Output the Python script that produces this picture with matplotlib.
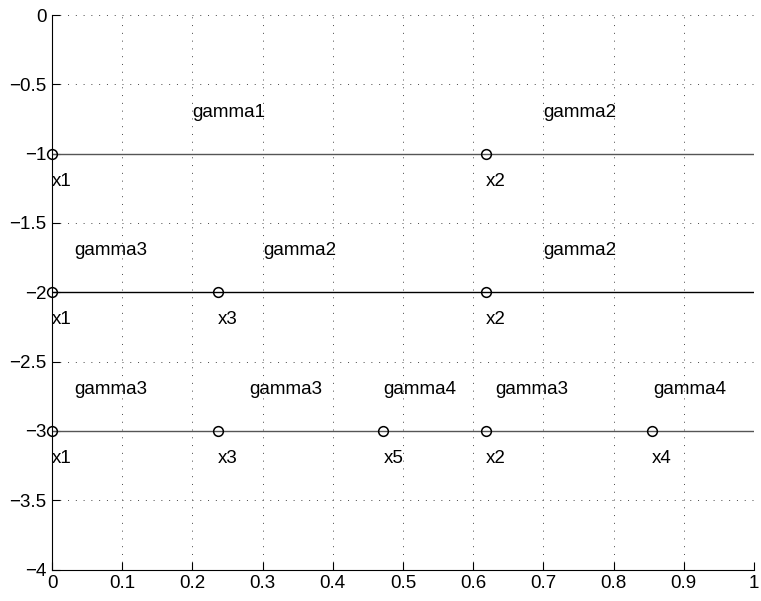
import numpy as np
import matplotlib
matplotlib.use('Agg')
import matplotlib.pyplot as plt

plt.rcParams['font.family'] = ['Liberation Sans', 'DejaVu Sans']

# points on each level (x position, level)
pt_x = [0, 0.618, 0, 0.236, 0.618, 0, 0.236, 0.472, 0.618, 0.854]
pt_y = [-1, -1, -2, -2, -2, -3, -3, -3, -3, -3]
pt_labels = ['x1', 'x2', 'x1', 'x3', 'x2', 'x1', 'x3', 'x5', 'x2', 'x4']

# interval labels
gam_x = [0.2, 0.7, 0.031, 0.301, 0.7, 0.031, 0.281, 0.472, 0.632, 0.856]
gam_y = [-0.7, -0.7, -1.7, -1.7, -1.7, -2.7, -2.7, -2.7, -2.7, -2.7]
gam_labels = ['gamma1', 'gamma2', 'gamma3', 'gamma2', 'gamma2',
              'gamma3', 'gamma3', 'gamma4', 'gamma3', 'gamma4']

levels = [-1, -2, -3]
level_colors = ['#555555', 'black', '#555555']

fig = plt.figure(figsize=(7.61, 6.01), dpi=100)
ax = fig.add_axes([52 / 761, 31.5 / 601, 702 / 761, 554.5 / 601])

for lv, c in zip(levels, level_colors):
    ax.plot([0, 1], [lv, lv], color=c, lw=1, zorder=2)
ax.plot(pt_x, pt_y, 'o', mfc='none', mec='black', ms=7, mew=1.1, zorder=3, clip_on=False)

for x, y, s in zip(pt_x, pt_y, pt_labels):
    ax.text(x, y - 0.2, s, ha='left', va='center', fontsize=13.5)
for x, y, s in zip(gam_x, gam_y, gam_labels):
    ax.text(x, y, s, ha='left', va='center', fontsize=13.5)

ax.set_xlim(0, 1)
ax.set_ylim(-4, 0)
ax.set_xticks(np.arange(0, 1.01, 0.1))
ax.set_xticklabels(['0', '0.1', '0.2', '0.3', '0.4', '0.5', '0.6', '0.7', '0.8', '0.9', '1'])
ax.set_yticks(np.arange(-4, 0.01, 0.5))
ax.set_yticklabels(['\u22124', '\u22123.5', '\u22123', '\u22122.5', '\u22122',
                    '\u22121.5', '\u22121', '\u22120.5', '0'])
ax.tick_params(direction='in', length=6, width=0.8, labelsize=13.5, pad=4)
ax.grid(True, linestyle=(0, (1, 7)), color='#444444', lw=0.7)
ax.spines['top'].set_visible(False)
ax.spines['right'].set_visible(False)

fig.savefig('out.png', dpi=100)
